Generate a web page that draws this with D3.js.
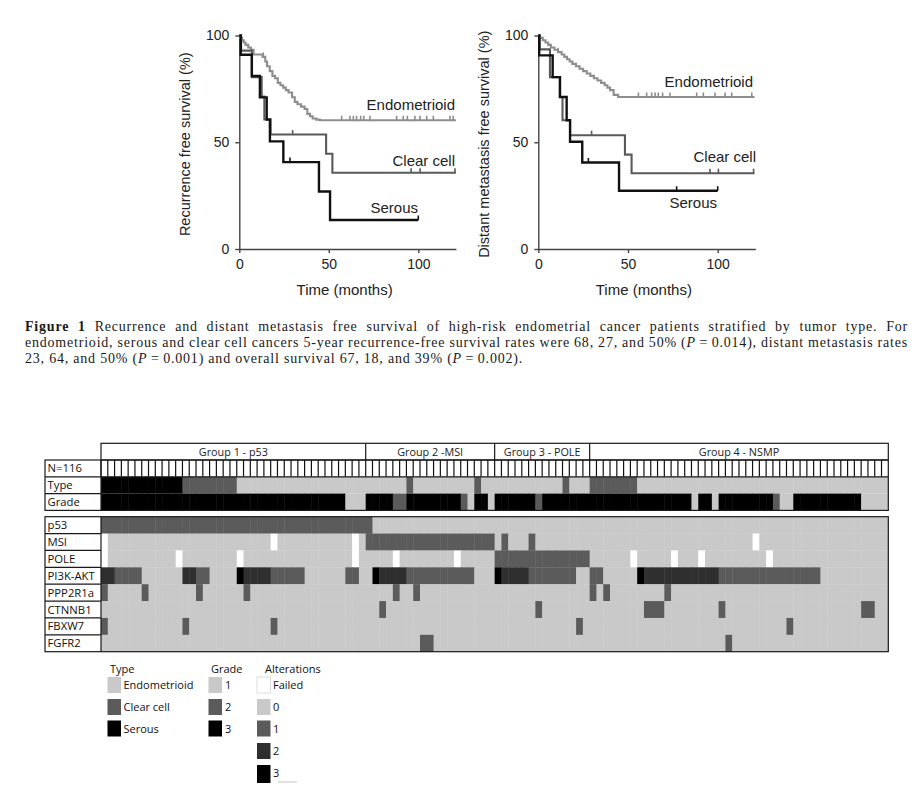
<!DOCTYPE html>
<html><head><meta charset="utf-8">
<script src="https://cdn.jsdelivr.net/npm/d3@7"></script>
<style>body{margin:0;background:#fff} svg{display:block}</style>
</head><body><svg id="c" width="924" height="793"></svg>
<script>
// ---------------- Kaplan-Meier data ----------------
const xTicks = [0, 50, 100];
const yTicks = [0, 50, 100];
const kmAxisEnd = 121;

// Recurrence free survival
const rfsEndoT = [0, 0.5, 1.5, 2.5, 3.5, 5, 6.5, 8, 13, 14.5, 15.5, 17, 18.5, 20, 21.5, 23, 24.5, 26, 27.5, 29.5, 31, 32.5, 34.5, 36.5, 38, 39.5, 41, 43, 45];
const rfsEndoS = [100, 98.9, 97.8, 96.7, 95.6, 94.4, 93.3, 91.1, 90.0, 87.8, 85.6, 83.3, 81.1, 80.0, 77.8, 76.7, 75.6, 74.4, 73.3, 71.1, 68.9, 67.8, 66.7, 65.6, 63.3, 62.2, 61.1, 60.6, 60.3];
const rfsEndoCens = [13.4, 57.2, 61.8, 63.7, 65.5, 67.8, 69.6, 73, 87.9, 91.6, 93.9, 98.1, 100.9, 104.7, 108.4, 117.7, 119.5];
const rfsEndoEnd = 121;
const rfsClearT = [0, 1, 7, 12.5, 14, 17.5, 48.5, 52];
const rfsClearS = [100, 92.9, 80.5, 71.4, 60.7, 53.6, 44.6, 35.7];
const rfsClearCens = [29.8, 96, 101, 120.5];
const rfsClearEnd = 121;
const rfsSerT = [0, 0.8, 7, 11.5, 15.3, 17.1, 24.6, 44.5, 50.7];
const rfsSerS = [100, 91, 81, 71, 60.6, 50.4, 40.7, 26.9, 13.6];
const rfsSerCens = [28.3, 100];
const rfsSerEnd = 100;

// Distant metastasis free survival
const dmfsEndoT = [0, 1, 2.5, 4, 5.5, 7, 9, 11, 13, 14.5, 16, 17.5, 19, 21, 23, 25, 27, 29, 31, 33, 35, 37, 38.5, 40, 42, 44.5];
const dmfsEndoS = [100, 98.9, 97.8, 96.7, 95.6, 94.4, 93.3, 92.2, 91.1, 90.0, 88.9, 87.8, 86.7, 85.6, 84.4, 83.3, 82.2, 81.1, 80.0, 78.9, 77.8, 76.7, 75.6, 74.4, 72.2, 71.2];
const dmfsEndoCens = [11, 55.8, 60.4, 63.2, 65.1, 66.9, 69.3, 73.4, 88.3, 92, 98.5, 104.1, 107.8, 119];
const dmfsEndoEnd = 120.5;
const dmfsClearT = [0, 0.8, 6.5, 12, 13.5, 17.7, 48.3, 52];
const dmfsClearS = [100, 93.5, 80.5, 71.2, 60.3, 53.3, 44.2, 35.5];
const dmfsClearCens = [29.7, 95.7, 100.4, 120];
const dmfsClearEnd = 120.5;
const dmfsSerT = [0, 0.5, 8, 12.1, 15.8, 17.7, 24.5, 45];
const dmfsSerS = [100, 90.7, 80.5, 71.2, 60.3, 50.2, 40.5, 27.3];
const dmfsSerCens = [27.9, 77.1, 100];
const dmfsSerEnd = 100;

const kmLabels = ["Endometrioid", "Clear cell", "Serous"];
const kmColors = ["#8e8e8e", "#5a5a5a", "#111111"];

// ---------------- Heatmap data (116 patients) ----------------
const groupNames = ["Group 1 - p53", "Group 2 -MSI", "Group 3 - POLE", "Group 4 - NSMP"];
const groupSizes = [39, 19, 14, 44];
const nPatients = 116;
// Type: 0 Endometrioid, 1 Clear cell, 2 Serous
const typeRow = [
  2,2,2,2,2,2,2,2,2,2,
  2,2,1,1,1,1,1,1,1,1,
  0,0,0,0,0,0,0,0,0,0,
  0,0,0,0,0,0,0,0,0,0,
  0,0,0,0,0,1,0,0,0,0,
  0,0,0,0,0,1,0,0,0,0,
  0,0,0,0,0,0,0,0,1,0,
  0,0,1,1,1,1,1,1,1,0,
  0,0,0,0,0,0,0,0,0,0,
  0,0,0,0,0,0,0,0,0,0,
  0,0,0,0,0,0,0,0,0,0,
  0,0,0,0,0,0];
// Grade 1,2,3
const gradeRow = [
  3,3,3,3,3,3,3,3,3,3,
  3,3,3,3,3,3,3,3,3,3,
  3,3,3,3,3,3,3,3,3,3,
  3,3,3,3,3,3,1,1,1,3,
  3,3,3,2,2,3,3,3,3,3,
  3,3,3,2,1,3,3,1,3,3,
  3,3,3,3,2,3,3,3,3,3,
  3,3,3,3,3,3,3,3,3,3,
  3,3,3,3,3,3,3,1,3,3,
  1,3,3,3,3,3,3,3,3,2,
  1,1,3,3,3,3,3,3,3,3,
  3,3,1,1,1,1];
// Alterations: [patient index, level]  (level -1 = failed, 1..3 = number of alterations); others 0
const p53Alt = [[0,1],[1,1],[2,1],[3,1],[4,1],[5,1],[6,1],[7,1],[8,1],[9,1],[10,1],[11,1],[12,1],[13,1],[14,1],[15,1],[16,1],[17,1],[18,1],[19,1],[20,1],[21,1],[22,1],[23,1],[24,1],[25,1],[26,1],[27,1],[28,1],[29,1],[30,1],[31,1],[32,1],[33,1],[34,1],[35,1],[36,1],[37,1],[38,1],[39,1]];
const msiAlt = [[0,-1],[25,-1],[37,-1],[39,1],[40,1],[41,1],[42,1],[43,1],[44,1],[45,1],[46,1],[47,1],[48,1],[49,1],[50,1],[51,1],[52,1],[53,1],[54,1],[55,1],[56,1],[57,1],[59,1],[63,1],[96,-1]];
const poleAlt = [[0,-1],[11,-1],[20,-1],[37,-1],[43,-1],[52,-1],[58,1],[59,1],[60,1],[61,1],[62,1],[63,1],[64,1],[65,1],[66,1],[67,1],[68,1],[69,1],[70,1],[71,1],[78,-1],[84,-1],[88,-1],[98,-1]];
const pi3kAlt = [[0,2],[1,2],[2,1],[3,1],[4,1],[5,1],[12,2],[13,2],[14,1],[15,1],[20,3],[21,2],[22,2],[23,2],[24,2],[25,1],[26,1],[27,1],[28,1],[29,1],[36,1],[37,1],[40,3],[41,2],[42,2],[43,2],[44,2],[45,1],[46,1],[47,1],[48,1],[49,1],[50,1],[51,1],[52,1],[53,1],[54,1],[58,3],[59,2],[60,2],[61,2],[62,2],[63,1],[64,1],[65,1],[66,1],[67,1],[68,1],[69,1],[72,1],[73,1],[79,3],[80,2],[81,2],[82,2],[83,2],[84,2],[85,2],[86,2],[87,2],[88,2],[89,2],[90,2],[91,1],[92,1],[93,1],[94,1],[95,1],[96,1],[97,1],[98,1],[99,1],[100,1],[101,1],[102,1],[103,1],[104,1],[105,1]];
const ppp2r1aAlt = [[0,1],[6,1],[14,1],[21,1],[43,1],[46,1],[72,1],[74,1],[83,1]];
const ctnnb1Alt = [[41,1],[64,1],[80,1],[81,1],[82,1],[91,1],[112,1],[113,1]];
const fbxw7Alt = [[0,1],[12,1],[25,1],[70,1],[101,1]];
const fgfr2Alt = [[47,1],[48,1],[92,1]];
const geneNames = ["p53", "MSI", "POLE", "PI3K-AKT", "PPP2R1a", "CTNNB1", "FBXW7", "FGFR2"];
const clinNames = ["N=116", "Type", "Grade"];

const legendType = ["Endometrioid", "Clear cell", "Serous"];
const legendGrade = ["1", "2", "3"];
const legendAlt = ["Failed", "0", "1", "2", "3"];

// ---------------- Drawing ----------------
const svg = d3.select('#c');
svg.append('rect').attr('width', 924).attr('height', 793).attr('fill', '#fff');
const SANS = "'Liberation Sans', Arial, sans-serif";
const UI = "'Open Sans', 'Noto Sans', sans-serif";

function survAt(T, S, t) { let v = S[0]; for (let i = 0; i < T.length; i++) if (T[i] <= t) v = S[i]; return v; }

function drawKM(cfg) {
  const g = svg.append('g');
  const x = d3.scaleLinear().domain([0, 100]).range([cfg.x0, cfg.x100]);
  const y = d3.scaleLinear().domain([0, 100]).range([249, 35.5]);
  const xa = d3.scaleLinear().domain([0, kmAxisEnd]).range([x(0), x(kmAxisEnd)]);
  const ay = g.append('g').attr('transform', `translate(${x(0)},0)`)
    .call(d3.axisLeft(y).tickValues(yTicks).tickSize(4).tickPadding(6).tickSizeOuter(0));
  const ax = g.append('g').attr('transform', `translate(0,${y(0)})`)
    .call(d3.axisBottom(xa).tickValues(xTicks).tickSize(4).tickPadding(6).tickSizeOuter(0));
  [ay, ax].forEach(a => {
    a.select('.domain').attr('stroke', '#444').attr('stroke-width', 1.4);
    a.selectAll('.tick line').attr('stroke', '#444').attr('stroke-width', 1.4);
    a.selectAll('text').attr('font-family', SANS).attr('font-size', 14).attr('fill', '#222');
  });
  g.append('text').attr('transform', `translate(${cfg.ytx},${(y(0) + y(100)) / 2 + 2}) rotate(-90)`)
    .attr('text-anchor', 'middle').attr('font-family', SANS).attr('font-size', 14.5).attr('fill', '#222')
    .text(cfg.ytitle);
  g.append('text').attr('x', (x(0) + x(kmAxisEnd)) / 2 - 3).attr('y', 295)
    .attr('text-anchor', 'middle').attr('font-family', SANS).attr('font-size', 15).attr('fill', '#222')
    .text('Time (months)');
  const line = d3.line().x(d => x(d[0])).y(d => y(d[1])).curve(d3.curveStepAfter);
  cfg.series.forEach((s, k) => {
    const pts = s.T.map((t, i) => [t, s.S[i]]).concat([[s.end, s.S[s.S.length - 1]]]);
    g.append('path').attr('d', line(pts)).attr('fill', 'none')
      .attr('stroke', kmColors[k]).attr('stroke-width', k === 2 ? 2.4 : 2.1);
    g.selectAll(null).data(s.cens).enter().append('line')
      .attr('x1', d => x(d)).attr('x2', d => x(d))
      .attr('y1', d => y(survAt(s.T, s.S, d)) - 4.5).attr('y2', d => y(survAt(s.T, s.S, d)))
      .attr('stroke', kmColors[k]).attr('stroke-width', 1.6);
    g.append('text').attr('x', s.lx).attr('y', s.ly).attr('text-anchor', 'end')
      .attr('font-family', SANS).attr('font-size', 15).attr('fill', '#222').text(kmLabels[k]);
  });
}

drawKM({
  x0: 239.3, x100: 418.3, ytx: 190, ytitle: 'Recurrence free survival (%)',
  series: [
    { T: rfsEndoT, S: rfsEndoS, cens: rfsEndoCens, end: rfsEndoEnd, lx: 455, ly: 110 },
    { T: rfsClearT, S: rfsClearS, cens: rfsClearCens, end: rfsClearEnd, lx: 455, ly: 166 },
    { T: rfsSerT, S: rfsSerS, cens: rfsSerCens, end: rfsSerEnd, lx: 418, ly: 213 }
  ]
});
drawKM({
  x0: 538.3, x100: 717.7, ytx: 489, ytitle: 'Distant metastasis free survival (%)',
  series: [
    { T: dmfsEndoT, S: dmfsEndoS, cens: dmfsEndoCens, end: dmfsEndoEnd, lx: 753, ly: 87 },
    { T: dmfsClearT, S: dmfsClearS, cens: dmfsClearCens, end: dmfsClearEnd, lx: 756, ly: 162 },
    { T: dmfsSerT, S: dmfsSerS, cens: dmfsSerCens, end: dmfsSerEnd, lx: 717, ly: 208 }
  ]
});

// ---------------- Caption ----------------
const captionLines = [
  [["Figure 1", "b"], [" Recurrence and distant metastasis free survival of high-risk endometrial cancer patients stratified by tumor type. For", ""]],
  [["endometrioid, serous and clear cell cancers 5-year recurrence-free survival rates were 68, 27, and 50% (", ""], ["P", "i"], ["\u2009=\u20090.014), distant metastasis rates", ""]],
  [["23, 64, and 50% (", ""], ["P", "i"], ["\u2009=\u20090.001) and overall survival 67, 18, and 39% (", ""], ["P", "i"], ["\u2009=\u20090.002).", ""]]
];
const capY = [331, 347, 363];
const capTexts = captionLines.map((segs, li) => {
  const t = svg.append('text').attr('x', 25).attr('y', capY[li])
    .attr('font-family', "'Liberation Serif', 'Times New Roman', serif").attr('font-size', 14).attr('fill', '#1a1a1a')
    .attr('xml:space', 'preserve').style('white-space', 'pre');
  segs.forEach(s => {
    const ts = t.append('tspan').text(s[0]);
    if (s[1] === 'b') ts.attr('font-weight', 'bold');
    if (s[1] === 'i') ts.attr('font-style', 'italic');
  });
  return t;
});
// widen letters so the last (ragged) line matches its measured extent, then justify the others
const l3 = capTexts[2].node().getComputedTextLength();
const n3 = captionLines[2].map(s => s[0]).join('').length;
const ls = (498 - l3) / n3;
capTexts.forEach((t, li) => {
  t.style('letter-spacing', ls + 'px');
  if (li < 2) {
    const len = t.node().getComputedTextLength();
    const nsp = captionLines[li].map(s => s[0]).join('').split(' ').length - 1;
    t.style('word-spacing', ((908 - 25 - len) / nsp) + 'px');
  }
});

// ---------------- Heatmap ----------------
const hx = d3.scaleBand().domain(d3.range(nPatients)).range([101, 888.3]);
const bw = hx.bandwidth();
const labX0 = 45, dataX1 = 888.3;
const headY0 = 443.3, headY1 = 460;
const clinY = [460, 476.8, 493.6, 510.4];
const geneY0 = 516.7, geneH = 16.875;
const light = '#c9c9c9';
const typeColors = [light, '#5b5b5b', '#000'];
const gradeColors = { 1: light, 2: '#5b5b5b', 3: '#000' };
const altColors = { '-1': '#ffffff', 0: light, 1: '#5b5b5b', 2: '#2f2f2f', 3: '#000' };
const hm = svg.append('g');

function cellRow(vals, colorFn, y0, h) {
  hm.append('g').selectAll('rect').data(vals).enter().append('rect')
    .attr('x', (d, i) => hx(i)).attr('y', y0).attr('width', bw + 0.45).attr('height', h)
    .attr('fill', colorFn);
}
// N row ticks
hm.append('rect').attr('x', 101).attr('y', clinY[0]).attr('width', dataX1 - 101).attr('height', clinY[1] - clinY[0]).attr('fill', '#fff');
hm.append('g').selectAll('line').data(d3.range(nPatients)).enter().append('line')
  .attr('x1', i => hx(i)).attr('x2', i => hx(i)).attr('y1', clinY[0]).attr('y2', clinY[1])
  .attr('stroke', '#111').attr('stroke-width', 1.2);
cellRow(typeRow, d => typeColors[d], clinY[1], clinY[2] - clinY[1]);
cellRow(gradeRow, d => gradeColors[d], clinY[2], clinY[3] - clinY[2]);

const geneRows = [p53Alt, msiAlt, poleAlt, pi3kAlt, ppp2r1aAlt, ctnnb1Alt, fbxw7Alt, fgfr2Alt];
geneRows.forEach((alts, r) => {
  const full = new Array(nPatients).fill(0);
  alts.forEach(a => { full[a[0]] = a[1]; });
  cellRow(full, d => altColors[d], geneY0 + r * geneH, geneH + 0.3);
});

// frames
const fr = hm.append('g').attr('fill', 'none').attr('stroke', '#1a1a1a').attr('stroke-width', 1.2);
fr.append('rect').attr('x', 101).attr('y', headY0).attr('width', dataX1 - 101).attr('height', headY1 - headY0);
let cum = 0;
groupSizes.forEach((n, gi) => {
  const xa = hx(cum), xb = cum + n < nPatients ? hx(cum + n) : dataX1;
  if (gi > 0) fr.append('line').attr('x1', xa).attr('x2', xa).attr('y1', headY0).attr('y2', headY1);
  hm.append('text').attr('x', (xa + xb) / 2).attr('y', 455.5).attr('text-anchor', 'middle')
    .attr('font-family', UI).attr('font-size', 10.8).attr('fill', '#222').text(groupNames[gi]);
  cum += n;
});
fr.append('rect').attr('x', labX0).attr('y', clinY[0]).attr('width', dataX1 - labX0).attr('height', clinY[3] - clinY[0]);
fr.append('rect').attr('x', labX0).attr('y', geneY0).attr('width', dataX1 - labX0).attr('height', geneH * 8);
fr.append('line').attr('x1', 101).attr('x2', 101).attr('y1', clinY[0]).attr('y2', clinY[3]);
fr.append('line').attr('x1', 101).attr('x2', 101).attr('y1', geneY0).attr('y2', geneY0 + geneH * 8);
fr.append('line').attr('x1', labX0).attr('x2', dataX1).attr('y1', clinY[1]).attr('y2', clinY[1]);
fr.append('line').attr('x1', labX0).attr('x2', 101).attr('y1', clinY[2]).attr('y2', clinY[2]);
for (let r = 1; r < 8; r++) fr.append('line').attr('x1', labX0).attr('x2', 101).attr('y1', geneY0 + r * geneH).attr('y2', geneY0 + r * geneH);

clinNames.forEach((n, i) => {
  hm.append('text').attr('x', 47.5).attr('y', (clinY[i] + clinY[i + 1]) / 2 + 4).attr('font-family', UI)
    .attr('font-size', 11.3).attr('fill', '#111').text(n);
});
geneNames.forEach((n, i) => {
  hm.append('text').attr('x', 47.5).attr('y', geneY0 + i * geneH + geneH / 2 + 4).attr('font-family', UI)
    .attr('font-size', 11.3).attr('fill', '#111').text(n);
});

// ---------------- Legend ----------------
const lg = svg.append('g').attr('font-family', UI).attr('font-size', 11).attr('fill', '#111');
lg.append('text').attr('x', 110).attr('y', 673).text('Type');
lg.append('text').attr('x', 211).attr('y', 673).text('Grade');
lg.append('text').attr('x', 265).attr('y', 673).text('Alterations');
const rowY = [677, 699, 720.5, 743, 765];
legendType.forEach((n, i) => {
  lg.append('rect').attr('x', 107.5).attr('y', rowY[i]).attr('width', 13.5).attr('height', 16).attr('fill', typeColors[i]);
  lg.append('text').attr('x', 123.5).attr('y', rowY[i] + 12).text(n);
});
legendGrade.forEach((n, i) => {
  lg.append('rect').attr('x', 208.5).attr('y', rowY[i]).attr('width', 13.5).attr('height', 16).attr('fill', gradeColors[+n]);
  lg.append('text').attr('x', 225).attr('y', rowY[i] + 12).text(n);
});
legendAlt.forEach((n, i) => {
  const key = n === 'Failed' ? '-1' : n;
  lg.append('rect').attr('x', 257).attr('y', rowY[i]).attr('width', 13.5).attr('height', i === 4 ? 18 : 16)
    .attr('fill', altColors[key]).attr('stroke', n === 'Failed' ? '#ddd' : 'none');
  lg.append('text').attr('x', 273).attr('y', rowY[i] + 12).text(n);
});
lg.append('line').attr('x1', 278).attr('x2', 297).attr('y1', 782).attr('y2', 782).attr('stroke', '#d8d8d8').attr('stroke-width', 1.5);
</script></body></html>
